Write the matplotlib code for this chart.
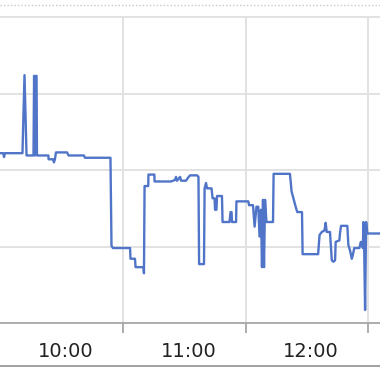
import matplotlib
matplotlib.use("Agg")
import matplotlib.pyplot as plt
import matplotlib.transforms as mtransforms
from matplotlib.lines import Line2D

# minutes after 9:00 and the reading at that moment
minutes = [27.7, 29.2, 29.7, 30.1, 38.7, 39.7, 40.7, 44.1, 44.4, 44.8, 45.1, 45.6, 45.8,
           51.4, 51.5, 53.7, 54.1, 54.6, 55.1, 60.5, 61.3, 68.8, 69.3, 81.8, 82.3, 83.0,
           91.4, 91.6, 93.8, 94.1, 98.0, 98.2, 98.5, 100.3, 100.4, 103.3, 103.4, 111.5,
           113.4, 113.9, 114.4, 115.9, 116.4, 118.8, 119.8, 120.8, 124.2, 124.9, 125.2,
           127.6, 127.9, 128.6, 129.1, 131.3, 131.8, 132.8, 133.0, 133.7, 134.0, 136.4,
           136.7, 140.1, 140.6, 141.1, 141.3, 143.3, 143.5, 149.3, 149.7, 151.6, 152.4,
           153.3, 154.2, 154.8, 155.5, 156.0, 156.5, 157.0, 157.5, 158.2, 161.4, 161.7,
           169.7, 170.5, 171.0, 171.8, 172.7, 173.3, 175.6, 175.9, 183.5, 184.2, 185.3,
           186.6, 187.2, 187.7, 189.3, 190.2, 191.0, 191.8, 192.1, 193.9, 194.2, 194.7,
           197.8, 198.3, 199.1, 200.0, 200.5, 201.2, 203.7, 204.4, 204.9, 205.4, 205.7,
           206.0, 206.5, 207.0, 207.6, 213.8]
values = [22.2, 22.2, 21.7, 22.2, 22.2, 32.4, 21.9, 21.9, 32.3, 21.9, 32.3, 32.3, 21.9,
          21.9, 21.4, 21.4, 21.0, 21.4, 22.3, 22.3, 21.9, 21.9, 21.6, 21.6, 10.1, 9.8,
          9.8, 8.4, 8.4, 7.3, 7.3, 6.5, 17.9, 17.9, 19.4, 19.4, 18.5, 18.5,
          18.7, 19.1, 18.6, 19.1, 18.6, 18.6, 19.0, 19.3, 19.3, 19.1, 7.7,
          7.7, 17.6, 18.3, 17.6, 17.6, 16.3, 16.3, 14.8, 14.8, 16.6, 16.6,
          13.2, 13.2, 14.5, 14.5, 13.2, 13.2, 15.9, 15.9, 15.4, 15.4, 12.6,
          15.2, 15.2, 11.3, 14.8, 7.3, 16.1, 7.3, 16.1, 13.2, 13.2, 19.5,
          19.5, 17.2, 16.7, 15.9, 15.0, 14.5, 14.5, 9.0, 9.0, 11.5, 11.9,
          12.1, 13.1, 11.9, 11.9, 8.2, 8.0, 8.2, 10.6, 10.8, 11.7, 12.7,
          12.7, 10.2, 9.5, 8.4, 8.9, 9.8, 9.8, 10.6, 10.4, 9.8, 13.2,
          10.8, 1.7, 13.2, 11.7, 11.7]

hour_labels = ["10:00", "11:00", "12:00"]
label_pos = [60, 120, 180]
grid_x = [88, 148, 208]
grid_y = [10, 20, 30, 40]

fig = plt.figure(figsize=(3.8, 3.72), dpi=100)
ax = fig.add_axes([0, 49 / 372, 1, 306 / 372])
ax.set_xlim(27.7, 213.8)
ax.set_ylim(0, 40)

# grid
for gy in grid_y:
    ax.axhline(gy, color="#e2e2e2", lw=1.4, zorder=1, clip_on=False)
for gx in grid_x:
    ax.axvline(gx, color="#e2e2e2", lw=1.4, zorder=1)

ax.plot(minutes, values, color="#5075c8", lw=1.7, zorder=3)

for s in ["left", "right", "top"]:
    ax.spines[s].set_visible(False)
ax.spines["bottom"].set_color("#a6a6a6")
ax.spines["bottom"].set_linewidth(1.3)

ax.set_yticks([])
ax.set_xticks(grid_x)
ax.set_xticklabels([])
ax.tick_params(axis="x", length=7, width=1.3, color="#a6a6a6", direction="out")

trans = mtransforms.blended_transform_factory(ax.transData, fig.transFigure)
for pos, lab in zip(label_pos, hour_labels):
    ax.text(pos, 15 / 372, lab, transform=trans, ha="center", va="baseline",
            fontsize=14, color="#222222", family="DejaVu Sans")

# border lines above and below the plot
fig.add_artist(Line2D([0, 1], [1 - 5 / 372] * 2, color="#c8c8c8", lw=1.0,
                      linestyle=(0, (1, 1.5)), transform=fig.transFigure))
fig.add_artist(Line2D([0, 1], [1 - 366 / 372] * 2, color="#9a9a9a", lw=1.3,
                      transform=fig.transFigure))

fig.savefig("out.png", dpi=100)
